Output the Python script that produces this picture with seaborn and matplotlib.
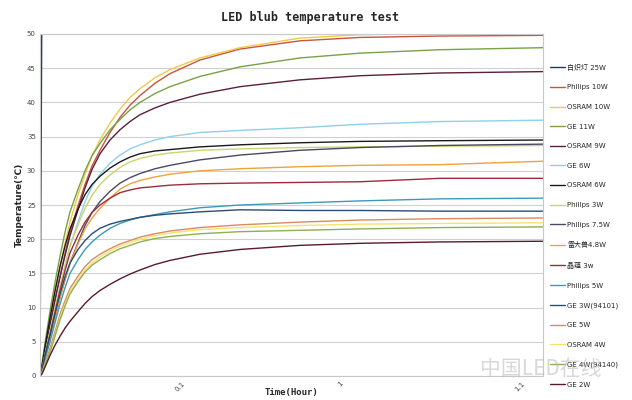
import numpy as np
import pandas as pd
import matplotlib
matplotlib.use("Agg")
import matplotlib.pyplot as plt
import seaborn as sns

# ---- data ----
TIME = [0, 2, 5, 10, 15, 20, 25, 30, 38, 45, 52, 60, 70, 80, 90, 100, 115, 130,
        160, 200, 260, 320, 400, 503]

series_names = ["白炽灯 25W", "Philips 10W", "OSRAM 10W", "GE 11W", "OSRAM 9W", "GE 6W",
                "OSRAM 6W", "Philips 3W", "Philips 7.5W", "雷大兽4.8W", "晶蕴 3w",
                "Philips 5W", "GE 3W(94101)", "GE 5W", "OSRAM 4W", "GE 4W(94140)", "GE 2W"]

inc_25w     = [0, 58, 60, 61, 62, 63, 64, 64, 65, 65, 66, 66, 67, 67, 68, 68, 68, 69,
               69, 70, 70, 70, 70, 70]
philips_10w = [0, 1.2, 3.7, 7.5, 11.1, 14.5, 17.9, 21, 24.9, 28, 30.7, 33, 35.6, 37.8, 39.6, 41,
               42.8, 44.2, 46.2, 47.8, 49, 49.5, 49.7, 49.8]
osram_10w   = [0, 1.5, 4.3, 8.5, 12.4, 16, 19.4, 22.5, 26.5, 29.5, 32.2, 34.5, 37, 39, 40.7, 42,
               43.6, 44.8, 46.5, 48, 49.4, 49.9, 50.1, 50.2]
ge_11w      = [0, 1.8, 4.8, 9.5, 13.7, 17.5, 21, 24, 27.3, 30, 32.2, 34, 36, 37.5, 38.9, 40,
               41.3, 42.3, 43.8, 45.2, 46.5, 47.2, 47.7, 48.0]
osram_9w    = [0, 1.2, 3.7, 7.5, 11.1, 14.5, 17.6, 20.5, 24.3, 27.5, 30.2, 32.5, 34.5, 36, 37.2,
               38.2, 39.2, 40, 41.2, 42.3, 43.3, 43.9, 44.3, 44.5]
ge_6w       = [0, 1.0, 3.2, 6.5, 9.8, 13, 16.1, 19, 22.5, 25.5, 27.7, 29.5, 31.1, 32.3, 33.2,
               33.8, 34.5, 35, 35.6, 35.9, 36.3, 36.8, 37.2, 37.4]
osram_6w    = [0, 1.5, 4.3, 8.5, 12.4, 16, 19, 21.5, 24.4, 26.5, 28, 29.2, 30.4, 31.3, 32,
               32.5, 32.9, 33.1, 33.5, 33.8, 34.1, 34.3, 34.4, 34.5]
philips_3w  = [0, 1.0, 3.2, 6.5, 9.8, 13, 16.1, 19, 22.1, 24.5, 26.4, 28, 29.4, 30.5, 31.3,
               31.8, 32.3, 32.6, 33, 33.2, 33.4, 33.5, 33.6, 33.7]
philips_75w = [0, 0.8, 2.7, 5.5, 8.5, 11.5, 14.1, 16.5, 19.5, 22, 23.9, 25.5, 27, 28.2, 29,
               29.6, 30.3, 30.8, 31.6, 32.3, 33, 33.4, 33.7, 33.9]
brand_48w   = [0, 0.8, 2.7, 5.5, 8.5, 11.5, 14.1, 16.5, 19.3, 21.5, 23.1, 24.5, 26, 27.3, 28.1,
               28.6, 29.1, 29.5, 30, 30.3, 30.6, 30.8, 30.9, 31.4]
brand_3w    = [0, 0.8, 3, 6, 9.3, 12.5, 15.4, 18, 20.6, 22.5, 23.9, 25, 26, 26.8, 27.2,
               27.5, 27.7, 27.9, 28.1, 28.2, 28.3, 28.4, 28.9, 28.9]
philips_5w  = [0, 0.6, 2.4, 5, 7.8, 10.5, 12.9, 15, 17, 18.5, 19.6, 20.6, 21.6, 22.3, 22.8,
               23.2, 23.6, 24, 24.6, 25, 25.3, 25.6, 25.9, 26.0]
ge_3w       = [0, 0.8, 3, 6, 9.1, 12, 14.5, 16.5, 18.5, 19.8, 20.8, 21.6, 22.2, 22.6, 22.9,
               23.2, 23.5, 23.7, 24, 24.3, 24.2, 24.2, 24.1, 24.1]
ge_5w       = [0, 0.5, 1.9, 4, 6.5, 9, 11, 12.8, 14.6, 16, 17, 17.8, 18.6, 19.3, 19.8,
               20.3, 20.8, 21.2, 21.7, 22.1, 22.5, 22.8, 23, 23.1]
osram_4w    = [0, 0.4, 1.6, 3.5, 6, 8.5, 10.5, 12.3, 14.1, 15.5, 16.5, 17.4, 18.3, 19, 19.5,
               20, 20.5, 20.9, 21.4, 21.7, 22, 22.2, 22.3, 22.4]
ge_4w       = [0, 0.4, 1.6, 3.5, 5.8, 8.2, 10.2, 12, 13.8, 15.2, 16.2, 17, 17.9, 18.6, 19.1,
               19.6, 20.1, 20.4, 20.8, 21.1, 21.3, 21.5, 21.7, 21.8]
ge_2w       = [0, 0.3, 1.3, 3, 4.5, 5.8, 7, 8, 9.4, 10.6, 11.6, 12.5, 13.4, 14.2, 14.9,
               15.5, 16.3, 16.9, 17.8, 18.5, 19.1, 19.4, 19.6, 19.7]

all_values = [inc_25w, philips_10w, osram_10w, ge_11w, osram_9w, ge_6w, osram_6w, philips_3w,
              philips_75w, brand_48w, brand_3w, philips_5w, ge_3w, ge_5w, osram_4w, ge_4w, ge_2w]

x_tick_pos = [140, 300, 480]
x_tick_labels = ["0.1", "1", "1.1"]
y_ticks = [0, 5, 10, 15, 20, 25, 30, 35, 40, 45, 50]

colors = ["#1f3a5f", "#c8553d", "#f2c84b", "#77a345", "#5c1f3d", "#8fd0ea",
          "#1a1a1a", "#c8d66b", "#4a4866", "#f0a23c", "#9e2b3b",
          "#3b9bb5", "#2b4d75", "#d98b5f", "#f5e36e", "#8db052", "#5a1a2e"]

rows = []
for name, vals in zip(series_names, all_values):
    for t, v in zip(TIME, vals):
        rows.append({"time": t, "temp": v, "series": name})
df = pd.DataFrame(rows)

sns.set_style("white")
plt.rcParams['font.family'] = ['DejaVu Sans', 'Noto Sans CJK SC']

fig = plt.figure(figsize=(6.32, 4.0), dpi=100)
ax = fig.add_axes([40/632, 24/400, 503/632, 342/400])

sns.lineplot(data=df, x="time", y="temp", hue="series", hue_order=series_names,
             palette=colors, linewidth=1.0, ax=ax, legend=True, sort=False)

ax.set_xlim(0, 503)
ax.set_ylim(0, 50)
ax.set_yticks(y_ticks)
ax.set_yticklabels([str(v) for v in y_ticks], fontsize=5, color="#444444")
ax.set_xticks(x_tick_pos)
ax.set_xticklabels(x_tick_labels, rotation=45, fontsize=5, color="#444444")
ax.tick_params(axis="both", length=0, pad=3)
ax.grid(axis="y", color="#d0d0d0", linewidth=0.8)
for s in ax.spines.values():
    s.set_color("#c8c8c8")
    s.set_linewidth(0.8)

ax.set_xlabel("Time(Hour)", fontsize=6.5, fontweight="bold", family="DejaVu Sans Mono")
ax.xaxis.set_label_coords(0.5, -0.035)
ax.set_ylabel("Temperature(℃)", fontsize=6.5, fontweight="bold", labelpad=2)
fig.text(0.49, 0.955, "LED blub temperature test", ha="center", va="center",
         fontsize=8.5, fontweight="bold", family="DejaVu Sans Mono")

h, l = ax.get_legend_handles_labels()
ax.legend(h, l, loc="upper left", bbox_to_anchor=(1.005, 0.925), frameon=False,
          fontsize=5, handlelength=2.2, handletextpad=0.3, labelspacing=1.96,
          borderaxespad=0.2)

fig.text(0.855, 0.078, "中国LED在线", fontsize=15, color="#b8b8b8", alpha=0.55,
         ha="center", va="center", family=["Noto Sans CJK SC", "DejaVu Sans"])

fig.savefig("out.png", dpi=100, facecolor="white")
